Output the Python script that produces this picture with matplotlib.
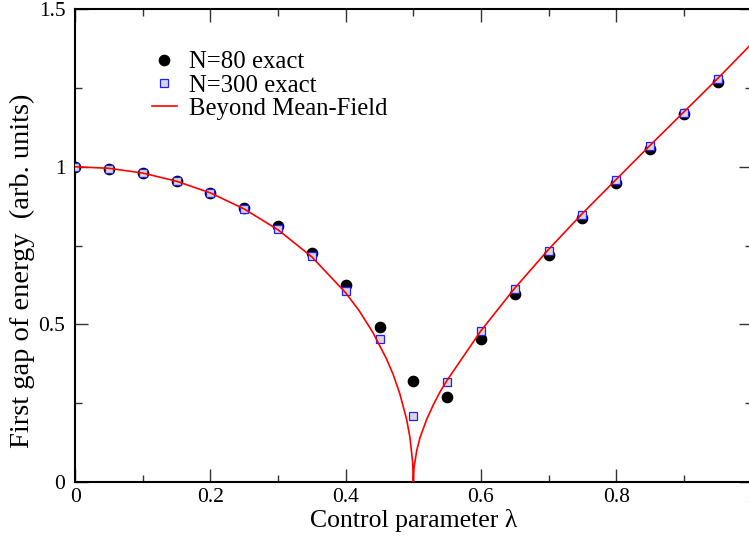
import matplotlib
matplotlib.use("Agg")
import matplotlib.pyplot as plt
from matplotlib.ticker import MultipleLocator

plt.rcParams['font.family'] = ['Liberation Serif', 'DejaVu Serif']

# Exact data
lam_pts = [0.0, 0.05, 0.1, 0.15, 0.2, 0.25, 0.3, 0.35, 0.4, 0.45, 0.5,
           0.55, 0.6, 0.65, 0.7, 0.75, 0.8, 0.85, 0.9, 0.95]
gap_n80 = [1.000, 0.994, 0.980, 0.955, 0.917, 0.870, 0.812, 0.727, 0.625, 0.491, 0.321,
           0.269, 0.453, 0.595, 0.720, 0.837, 0.947, 1.056, 1.166, 1.270]
gap_n300 = [1.000, 0.994, 0.980, 0.955, 0.917, 0.867, 0.804, 0.717, 0.606, 0.453, 0.209,
            0.316, 0.479, 0.611, 0.733, 0.847, 0.958, 1.067, 1.172, 1.279]

# Beyond mean-field curve
lam_curve = [0.0, 0.05, 0.1, 0.15, 0.2, 0.25, 0.3, 0.35, 0.4, 0.42, 0.44, 0.46,
             0.47, 0.48, 0.49, 0.495, 0.499, 0.5, 0.501, 0.505, 0.51, 0.52, 0.53,
             0.54, 0.55, 0.6, 0.65, 0.7, 0.75, 0.8, 0.85, 0.9, 0.95, 1.0]
gap_curve = [1.000, 0.995, 0.980, 0.954, 0.917, 0.866, 0.800, 0.714, 0.600, 0.543,
             0.475, 0.392, 0.342, 0.280, 0.199, 0.141, 0.063, 0.0, 0.045, 0.100,
             0.142, 0.200, 0.247, 0.288, 0.323, 0.480, 0.615, 0.738, 0.852, 0.960,
             1.068, 1.174, 1.280, 1.390]

fig = plt.figure(figsize=(7.49, 5.40), dpi=100)
ax = fig.add_axes([75.1 / 749, 58 / 540, 676.5 / 749, 472.9 / 540])

ax.plot(lam_pts, gap_n80, 'o', color='black', markersize=7.4, zorder=3,
        label='N=80 exact', linestyle='none')
ax.plot(lam_pts, gap_n300, 's', markerfacecolor='#d8d8d8', markeredgecolor='#2020ff',
        markeredgewidth=0.9, markersize=5.6, zorder=4, label='N=300 exact',
        linestyle='none')
ax.plot(lam_curve, gap_curve, '-', color='#ff0000', linewidth=1.2, zorder=5,
        label='Beyond Mean-Field')

ax.set_xlim(0, 1)
ax.set_ylim(0, 1.5)
ax.xaxis.set_minor_locator(MultipleLocator(0.1))
ax.yaxis.set_minor_locator(MultipleLocator(0.25))
ax.set_xticks([0, 0.2, 0.4, 0.6, 0.8, 1.0])
ax.set_xticklabels(['0', '0.2', '0.4', '0.6', '0.8', '1'])
ax.set_yticks([0, 0.5, 1.0, 1.5])
ax.set_yticklabels(['0', '0.5', '1', '1.5'])

ax.tick_params(which='both', direction='in', top=True, right=True,
               labelsize=15.5, color='#333333')
ax.tick_params(which='major', length=9.4, width=1.0, pad=4)
ax.tick_params(which='minor', length=4.7, width=1.0)
ax.tick_params(axis='y', which='major', pad=7)
for s in ax.spines.values():
    s.set_linewidth(1.5)

ax.set_xlabel('Control parameter \u03bb', fontsize=18.5, labelpad=2)
ax.set_ylabel('First gap of energy  (arb. units)', fontsize=20.5)
ax.yaxis.set_label_coords(-0.059, 0.446)

leg = ax.legend(loc='upper left', bbox_to_anchor=(0.1137, 0.911), frameon=False,
                fontsize=17.8, handlelength=1.0, handletextpad=0.49,
                labelspacing=0.03, borderaxespad=0, borderpad=0)

fig.savefig('out.png', dpi=100)
